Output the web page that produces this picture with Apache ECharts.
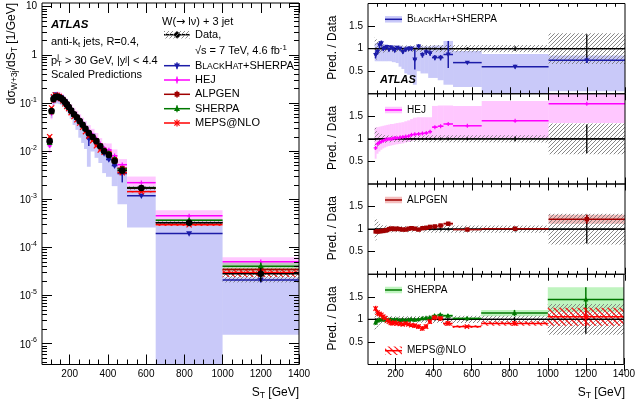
<!DOCTYPE html>
<html><head><meta charset="utf-8">
<script src="https://cdn.jsdelivr.net/npm/echarts@6/dist/echarts.min.js"></script>
<style>html,body{margin:0;padding:0;background:#fff}#c{width:638px;height:405px}</style>
</head><body><div id="c"></div>
<script>
// ---------------- data ----------------
const binLo = [90,100,110,120,130,140,150,160,170,180,190,200,215,230,245,260,275,290,310,330,350,370,390,420,450,500,650,1000];
const binHi = [100,110,120,130,140,150,160,170,180,190,200,215,230,245,260,275,290,310,330,350,370,390,420,450,500,650,1000,1400];
const dataVal = [0.016,0.068,0.12,0.133,0.135,0.131,0.125,0.116,0.104,0.093,0.082,0.069,0.058,0.05,0.042,0.035,0.029,0.0235,0.0195,0.016,0.0125,0.0099,0.0083,0.0062,0.0039,0.0017,0.00032,0.000028];
const dataSys = [0.25,0.17,0.12,0.1,0.09,0.085,0.08,0.075,0.075,0.07,0.07,0.07,0.07,0.07,0.07,0.07,0.07,0.07,0.075,0.075,0.075,0.08,0.08,0.08,0.08,0.08,0.08,0.34];
const dataStat = [0.02,0.01,0.01,0.01,0.01,0.01,0.01,0.01,0.01,0.01,0.01,0.01,0.01,0.01,0.015,0.015,0.015,0.02,0.02,0.02,0.025,0.025,0.025,0.03,0.03,0.03,0.05,0.32];

const bhRatio = [0.86,0.93,1.08,1.12,1.0,1.02,1.04,0.98,1.03,1.0,0.96,1.02,1.0,0.93,0.98,1.0,1.0,0.76,1.05,0.86,0.92,0.9,0.8,0.8,0.87,0.69,0.60,0.74];
const bhStat = [0.08,0.06,0.08,0.06,0.05,0.04,0.04,0.04,0.04,0.04,0.04,0.04,0.04,0.05,0.05,0.05,0.05,0.22,0.05,0.06,0.06,0.06,0.06,0.06,0.3,0.02,0.04,0.06];
const bhLo = [0.72,0.72,0.72,0.72,0.72,0.72,0.72,0.72,0.72,0.7,0.7,0.68,0.6,0.55,0.45,0.42,0.38,0.2,0.5,0.45,0.45,0.35,0.35,0.3,0.2,0.15,0.0005,0.054];
const bhHi = [1.12,1.1,1.12,1.15,1.1,1.1,1.1,1.08,1.08,1.08,1.07,1.07,1.07,1.05,1.05,1.05,1.05,1.05,1.05,1.05,1.05,1.05,1.07,1.07,1.17,0.95,0.88,0.85];

const hejRatio = [0.8,0.89,0.92,0.94,0.96,0.98,0.99,1.0,1.0,1.01,1.02,1.02,1.03,1.04,1.05,1.06,1.09,1.1,1.11,1.12,1.13,1.16,1.26,1.28,1.33,1.29,1.40,1.78];
const hejLo = [0.56,0.67,0.72,0.76,0.79,0.81,0.83,0.84,0.85,0.86,0.87,0.88,0.89,0.9,0.92,0.93,0.95,0.97,0.98,0.99,1.0,1.0,1.02,1.02,1.02,1.02,1.0,1.35];
const hejHi = [1.25,1.26,1.27,1.28,1.29,1.3,1.31,1.32,1.33,1.33,1.34,1.35,1.36,1.37,1.39,1.41,1.44,1.47,1.48,1.48,1.48,1.48,1.73,1.74,1.74,1.73,1.84,2.2];

const alpRatio = [0.95,0.95,0.95,0.96,0.96,0.97,0.98,1.0,1.01,1.01,1.0,1.01,1.0,0.99,0.99,1.01,1.02,1.01,0.99,1.02,1.03,1.05,1.06,1.08,1.12,0.99,1.01,1.22];
const alpErr = [0.04,0.03,0.025,0.02,0.02,0.02,0.02,0.02,0.02,0.02,0.02,0.02,0.02,0.02,0.02,0.02,0.025,0.025,0.025,0.03,0.03,0.03,0.03,0.035,0.04,0.015,0.015,0.1];

const sheRatio = [0.93,0.97,0.99,1.0,1.0,0.99,0.98,0.99,1.0,0.98,0.99,1.0,0.98,0.99,0.98,0.99,1.0,0.99,1.0,1.02,1.03,1.04,1.08,1.1,1.08,1.02,1.14,1.44];
const sheErr = [0.05,0.04,0.03,0.03,0.03,0.03,0.03,0.03,0.03,0.03,0.03,0.03,0.03,0.03,0.03,0.03,0.03,0.03,0.03,0.03,0.03,0.03,0.03,0.03,0.04,0.03,0.07,0.27];

const mepRatio = [1.24,1.15,1.12,1.1,1.06,1.03,0.98,0.95,0.92,0.91,0.93,0.91,0.9,0.89,0.91,0.89,0.87,0.86,0.84,0.8,0.84,0.95,1.04,1.02,0.91,0.84,0.91,1.06];
const mepErr = [0.06,0.06,0.05,0.05,0.05,0.04,0.04,0.04,0.04,0.04,0.04,0.04,0.04,0.04,0.04,0.04,0.04,0.05,0.05,0.05,0.05,0.05,0.05,0.05,0.05,0.03,0.05,0.2];

const xTickLabels = [200,400,600,800,1000,1200,1400];

// ---------------- styling ----------------
const FONT = "'Liberation Sans', Arial, Helvetica, sans-serif";
const C = {bh:'#1c1ca8', hej:'#ff00ff', alp:'#a00000', she:'#007800', mep:'#ff0000', data:'#000000'};
const BAND = {bh:'rgba(60,60,235,0.28)', hej:'rgba(255,0,255,0.22)', she:'rgba(0,210,0,0.25)', alp:'rgba(220,40,40,0.3)'};
const xMin = 55, xMax = 1400;
const yLogMin = 3.63e-7, yLogMax = 11.95;
const gridsDef = [
  {left:42, top:3, width:257, height:361.5},
  {left:368, top:3.5, width:257, height:90.25},
  {left:368, top:93.75, width:257, height:90.25},
  {left:368, top:184, width:257, height:90.25},
  {left:368, top:274.25, width:257, height:90.25}
];

function hatchPattern(color, size, lw, dir) {
  const cv = document.createElement('canvas');
  cv.width = size; cv.height = size;
  const g = cv.getContext('2d');
  g.strokeStyle = color; g.lineWidth = lw;
  g.beginPath();
  for (let k = -1; k <= 1; k++) {
    if (dir > 0) { g.moveTo(k*size, size); g.lineTo(k*size + size, 0); }
    else { g.moveTo(k*size, 0); g.lineTo(k*size + size, size); }
  }
  g.stroke();
  return {image: cv, repeat: 'repeat'};
}
const DATA_HATCH = hatchPattern('#7a7a7a', 4, 0.9, 1);
const MEP_HATCH = hatchPattern('#ff2020', 6, 1.3, -1);

function markerEl(type, cx, cy, s, color) {
  if (type === 'circle') return {type:'circle', shape:{cx:cx, cy:cy, r:s}, style:{fill:color}};
  if (type === 'square') return {type:'rect', shape:{x:cx-s, y:cy-s, width:2*s, height:2*s}, style:{fill:color}};
  if (type === 'tri') return {type:'polygon', shape:{points:[[cx,cy-1.25*s],[cx-1.15*s,cy+0.85*s],[cx+1.15*s,cy+0.85*s]]}, style:{fill:color}};
  if (type === 'tridown') return {type:'polygon', shape:{points:[[cx,cy+1.25*s],[cx-1.15*s,cy-0.85*s],[cx+1.15*s,cy-0.85*s]]}, style:{fill:color}};
  if (type === 'cross') return {type:'group', children:[
    {type:'line', shape:{x1:cx-s,y1:cy-s,x2:cx+s,y2:cy+s}, style:{stroke:color, lineWidth:1.2}},
    {type:'line', shape:{x1:cx-s,y1:cy+s,x2:cx+s,y2:cy-s}, style:{stroke:color, lineWidth:1.2}}]};
  return {type:'group', children:[
    {type:'line', shape:{x1:cx-s,y1:cy,x2:cx+s,y2:cy}, style:{stroke:color, lineWidth:1.2}},
    {type:'line', shape:{x1:cx,y1:cy-s,x2:cx,y2:cy+s}, style:{stroke:color, lineWidth:1.2}}]};
}

function clampRect(x0, y0, x1, y1, cs) {
  const L = Math.max(Math.min(x0,x1), cs.x), R = Math.min(Math.max(x0,x1), cs.x+cs.width);
  const T = Math.max(Math.min(y0,y1), cs.y), B = Math.min(Math.max(y0,y1), cs.y+cs.height);
  if (!(R > L) || !(B > T)) return null;
  return {x:L, y:T, width:R-L, height:B-T};
}

function bandSeries(name, gi, rows, fill, z) {
  return {
    type:'custom', name:name, xAxisIndex:gi*2, yAxisIndex:gi*2, z:z, silent:true, animation:false,
    encode:{x:[0,1], y:[2,3]}, data:rows,
    renderItem: function (params, api) {
      const cs = params.coordSys;
      const p0 = api.coord([api.value(0), api.value(3)]);
      const p1 = api.coord([api.value(1), api.value(2)]);
      const r = clampRect(p0[0], p0[1], p1[0], p1[1], cs);
      if (!r) return null;
      return {type:'rect', shape:r, style:{fill:fill}};
    }
  };
}

function predSeries(name, gi, rows, color, marker, ms, z, lw) {
  return {
    type:'custom', name:name, xAxisIndex:gi*2, yAxisIndex:gi*2, z:z, silent:true, animation:false,
    encode:{x:[0,1,2], y:[3,4,5]}, data:rows,
    renderItem: function (params, api) {
      const cs = params.coordSys;
      const top = cs.y, bot = cs.y + cs.height;
      const v = api.value(3);
      const a = api.coord([api.value(0), v]), b = api.coord([api.value(1), v]), c = api.coord([api.value(2), v]);
      if (!(c[1] >= top && c[1] <= bot)) return null;
      const el = api.coord([api.value(2), api.value(4)]), eh = api.coord([api.value(2), api.value(5)]);
      const ch = [
        {type:'line', shape:{x1:a[0], y1:a[1], x2:b[0], y2:b[1]}, style:{stroke:color, lineWidth:lw}},
        {type:'line', shape:{x1:c[0], y1:Math.max(eh[1], top), x2:c[0], y2:Math.min(el[1], bot)}, style:{stroke:color, lineWidth:lw}}
      ];
      if (marker) ch.push(markerEl(marker, c[0], c[1], ms, color));
      return {type:'group', children:ch};
    }
  };
}

function unitySeries(gi) {
  return {
    type:'custom', xAxisIndex:gi*2, yAxisIndex:gi*2, z:6, silent:true, animation:false,
    encode:{x:0, y:1}, data:[[500,1]],
    renderItem: function (params, api) {
      const cs = params.coordSys; const y = api.coord([500,1])[1];
      return {type:'line', shape:{x1:cs.x, y1:y, x2:cs.x+cs.width, y2:y}, style:{stroke:'#000', lineWidth:1.3}};
    }
  };
}

function minorTickSeries(gi, isLog, lx, ly) {
  return {
    type:'custom', xAxisIndex:gi*2, yAxisIndex:gi*2, z:60, silent:true, animation:false,
    encode:{x:0, y:1}, data:[[500,1]],
    renderItem: function (params, api) {
      const cs = params.coordSys; const ch = [];
      const st = {stroke:'#000', lineWidth:1};
      for (let v = 100; v < 1400; v += 50) {
        if (v % 200 === 0) continue;
        const x = Math.round(api.coord([v, 1])[0]) + 0.5;
        ch.push({type:'line', shape:{x1:x, y1:cs.y+cs.height, x2:x, y2:cs.y+cs.height-lx}, style:st});
        ch.push({type:'line', shape:{x1:x, y1:cs.y, x2:x, y2:cs.y+lx}, style:st});
      }
      if (isLog) {
        for (let e = -7; e <= 1; e++) {
          for (let k = 2; k <= 9; k++) {
            const val = k * Math.pow(10, e);
            if (val < yLogMin || val > yLogMax) continue;
            const y = Math.round(api.coord([500, val])[1]) + 0.5;
            ch.push({type:'line', shape:{x1:cs.x, y1:y, x2:cs.x+ly, y2:y}, style:st});
            ch.push({type:'line', shape:{x1:cs.x+cs.width, y1:y, x2:cs.x+cs.width-ly, y2:y}, style:st});
          }
        }
      }
      return {type:'group', children:ch};
    }
  };
}

// ---------- rows built from the arrays ----------
const mid = i => (binLo[i] + binHi[i]) / 2;
const bandMain = (lo, hi) => binLo.map((l, i) => [l, binHi[i], dataVal[i]*lo[i], dataVal[i]*hi[i]]);
const bandRatio = (lo, hi) => binLo.map((l, i) => [l, binHi[i], lo[i], hi[i]]);
const predMain = (r, e) => binLo.map((l, i) => [l, binHi[i], mid(i), dataVal[i]*r[i], dataVal[i]*(r[i]-e[i]), dataVal[i]*(r[i]+e[i])]);
const predRatio = (r, e) => binLo.map((l, i) => [l, binHi[i], mid(i), r[i], r[i]-e[i], r[i]+e[i]]);
const minus = (r, e) => r.map((v, i) => v - e[i]);
const plus = (r, e) => r.map((v, i) => v + e[i]);
const ones = binLo.map(() => 1);

const series = [];
// main panel
series.push(bandSeries('BH band', 0, bandMain(bhLo, bhHi), BAND.bh, 1));
series.push(bandSeries('HEJ band', 0, bandMain(hejLo, hejHi), BAND.hej, 2));
series.push(bandSeries('SHERPA band', 0, bandMain(minus(sheRatio, sheErr), plus(sheRatio, sheErr)), BAND.she, 3));
series.push(bandSeries('ALPGEN band', 0, bandMain(minus(alpRatio, alpErr), plus(alpRatio, alpErr)), BAND.alp, 3));
series.push(bandSeries('Data band', 0, bandMain(minus(ones, dataSys), plus(ones, dataSys)), DATA_HATCH, 4));
series.push(bandSeries('MEPS band', 0, bandMain(minus(mepRatio, mepErr), plus(mepRatio, mepErr)), MEP_HATCH, 5));
series.push(predSeries('BlackHat+Sherpa', 0, predMain(bhRatio, bhStat), C.bh, 'tridown', 2.6, 7, 1.5));
series.push(predSeries('HEJ', 0, predMain(hejRatio, hejRatio.map(() => 0.02)), C.hej, 'plus', 2.2, 7, 1.5));
series.push(predSeries('ALPGEN', 0, predMain(alpRatio, alpErr), C.alp, 'square', 2.4, 7, 1.5));
series.push(predSeries('SHERPA', 0, predMain(sheRatio, sheErr), C.she, 'tri', 2.6, 7, 1.5));
series.push(predSeries('MEPS@NLO', 0, predMain(mepRatio, mepErr), C.mep, 'cross', 2.6, 8, 1.5));
series.push(predSeries('Data', 0, predMain(ones, dataStat), C.data, 'circle', 3.3, 10, 1.5));
series.push(minorTickSeries(0, true, 5, 5));

// ratio panels
const ratioDef = [
  {gi:1, band:[bandRatio(bhLo, bhHi), BAND.bh], preds:[[predRatio(bhRatio, bhStat), C.bh, 'tridown', 2.2]]},
  {gi:2, band:[bandRatio(hejLo, hejHi), BAND.hej], preds:[[predRatio(hejRatio, hejRatio.map(() => 0.02)), C.hej, 'plus', 2]]},
  {gi:3, band:[bandRatio(minus(alpRatio, alpErr), plus(alpRatio, alpErr)), BAND.alp], preds:[[predRatio(alpRatio, alpErr), C.alp, 'square', 2.2]]},
  {gi:4, band:[bandRatio(minus(sheRatio, sheErr), plus(sheRatio, sheErr)), BAND.she],
   extraBand:[bandRatio(minus(mepRatio, mepErr), plus(mepRatio, mepErr)), MEP_HATCH],
   preds:[[predRatio(sheRatio, sheErr), C.she, 'tri', 2.2], [predRatio(mepRatio, mepErr), C.mep, 'cross', 2.2]]}
];
ratioDef.forEach(p => {
  series.push(bandSeries('band' + p.gi, p.gi, p.band[0], p.band[1], 1));
  series.push(bandSeries('data band' + p.gi, p.gi, bandRatio(minus(ones, dataSys), plus(ones, dataSys)), DATA_HATCH, 3));
  if (p.extraBand) series.push(bandSeries('meps band', p.gi, p.extraBand[0], p.extraBand[1], 4));
  series.push(unitySeries(p.gi));
  series.push(predSeries('data err' + p.gi, p.gi, predRatio(ones, dataStat), '#000', null, 0, 7, 1.3));
  p.preds.forEach(d => series.push(predSeries('pred' + p.gi, p.gi, d[0], d[1], d[2], d[3], 8, 1.5)));
  series.push(minorTickSeries(p.gi, false, 3.3, 0));
});

// ---------- axes ----------
const xAxes = [], yAxes = [];
const plain = v => String(v);
gridsDef.forEach((g, gi) => {
  const main = gi === 0;
  const majLen = main ? 10 : 6.5;
  const lab = {fontSize:10, color:'#000', fontFamily:FONT, formatter:plain};
  xAxes.push({gridIndex:gi, type:'value', min:xMin, max:xMax, position:'bottom', z:60,
    axisLine:{show:false}, splitLine:{show:false},
    axisTick:{show:true, inside:true, length:majLen, customValues:xTickLabels, lineStyle:{color:'#000', width:1}},
    axisLabel:Object.assign({show: gi === 0 || gi === 4, customValues:xTickLabels, margin:5}, lab)});
  xAxes.push({gridIndex:gi, type:'value', min:xMin, max:xMax, position:'top', z:60,
    axisLine:{show:false}, splitLine:{show:false},
    axisTick:{show:true, inside:true, length:majLen, customValues:xTickLabels, lineStyle:{color:'#000', width:1}},
    axisLabel:{show:false}});
  if (main) {
    const logLabel = {
      showMinLabel:false, showMaxLabel:false, margin:5,
      formatter: function (v) {
        const e = Math.round(Math.log10(v));
        if (e === 0) return '{b|1}';
        if (e === 1) return '{b|10}';
        return '{b|10}{sup|' + e + '}';
      },
      rich: {
        b:{fontSize:10, fontFamily:FONT, color:'#000', verticalAlign:'bottom'},
        sup:{fontSize:7, fontFamily:FONT, color:'#000', verticalAlign:'top', padding:[0,0,6,0]}
      }
    };
    yAxes.push({gridIndex:0, type:'log', logBase:10, min:yLogMin, max:yLogMax, position:'left', z:60,
      axisLine:{show:false}, splitLine:{show:false},
      axisTick:{inside:true, length:10, lineStyle:{color:'#000', width:1}}, axisLabel:logLabel});
    yAxes.push({gridIndex:0, type:'log', logBase:10, min:yLogMin, max:yLogMax, position:'right', z:60,
      axisLine:{show:false}, splitLine:{show:false},
      axisTick:{inside:true, length:10, lineStyle:{color:'#000', width:1}}, axisLabel:{show:false}});
  } else {
    yAxes.push({gridIndex:gi, type:'value', min:0, max:2, interval:0.5, position:'left', z:60,
      axisLine:{show:false}, splitLine:{show:false},
      axisTick:{inside:true, length:7, lineStyle:{color:'#000', width:1}},
      axisLabel:Object.assign({showMinLabel:false, showMaxLabel:false, margin:5}, lab)});
    yAxes.push({gridIndex:gi, type:'value', min:0, max:2, interval:0.5, position:'right',
      axisLine:{show:false}, splitLine:{show:false}, axisTick:{show:false}, axisLabel:{show:false}});
  }
});

// ---------- text & legend graphics ----------
function rich(size) {
  const sm = size * 0.72, pad = Math.round(size * 0.42);
  return {
    n:{fontSize:size, fontFamily:FONT, fill:'#000', verticalAlign:'middle'},
    ar:{fontSize:size, fontFamily:"'DejaVu Sans', sans-serif", fill:'#000', verticalAlign:'middle'},
    sub:{fontSize:sm, fontFamily:FONT, fill:'#000', verticalAlign:'bottom', padding:[pad,0,0,0]},
    sup:{fontSize:sm, fontFamily:FONT, fill:'#000', verticalAlign:'top', padding:[0,0,pad,0]},
    c:{fontSize:size, fontFamily:FONT, fill:'#000', verticalAlign:'bottom'},
    s:{fontSize:size*0.78, fontFamily:FONT, fill:'#000', verticalAlign:'bottom'},
    bi:{fontSize:size, fontFamily:FONT, fill:'#000', fontWeight:'bold', fontStyle:'italic', verticalAlign:'middle'}
  };
}
function txt(x, y, text, size, align, rotation) {
  return {type:'text', x:x, y:y, rotation:rotation || 0, z:100, silent:true,
    style:{text:text, rich:rich(size), fontSize:size, fontFamily:FONT, fill:'#000',
      align:align || 'left', textAlign:align || 'left', verticalAlign:'middle', textVerticalAlign:'middle'}};
}
const smallCapsBH = '{c|B}{s|LACK}{c|H}{s|AT}{c|+SHERPA}';
function legLine(x1, x2, y, color, marker, s) {
  const cx = (x1 + x2) / 2;
  const ch = [
    {type:'line', shape:{x1:x1, y1:y, x2:x2, y2:y}, style:{stroke:color, lineWidth:1.5}},
    {type:'line', shape:{x1:cx, y1:y-3.5, x2:cx, y2:y+3.5}, style:{stroke:color, lineWidth:1.2}}
  ];
  if (marker) ch.push(markerEl(marker, cx, y, s, color));
  return {type:'group', z:100, silent:true, children:ch};
}
function legBox(x1, x2, y, h, fill, color) {
  return {type:'group', z:100, silent:true, children:[
    {type:'rect', shape:{x:x1, y:y-h/2, width:x2-x1, height:h}, style:{fill:fill}},
    {type:'line', shape:{x1:x1, y1:y, x2:x2, y2:y}, style:{stroke:color, lineWidth:1.5}}
  ]};
}

const graphics = [
  txt(51, 24.7, '{bi|ATLAS}', 11.5),
  txt(51, 42, '{n|anti-k}{sub|t}{n| jets, R=0.4,}', 11),
  txt(51, 61, '{n|p}{sub|T}{n| > 30 GeV, |y}{sup|j}{n|| < 4.4}', 11),
  txt(57.2, 57.2, '{n|j}', 8),
  txt(51, 75, '{n|Scaled Predictions}', 11),
  txt(162, 22.3, '{n|W(}{ar|→}{n| lν) + 3 jet}', 11),
  {type:'rect', z:100, silent:true, shape:{x:164, y:31, width:26, height:7.5}, style:{fill:DATA_HATCH}},
  legLine(164, 190, 34.7, '#000', 'circle', 2.8),
  txt(195, 34.7, '{n|Data,}', 11),
  txt(195, 50.5, '{n|√s = 7 TeV, 4.6 fb}{sup|-1}', 11),
  legLine(164, 190, 65.7, C.bh, 'tridown', 2.6),
  txt(195, 65.7, smallCapsBH, 11),
  legLine(164, 190, 80, C.hej, 'plus', 2.2),
  txt(195, 80, '{n|HEJ}', 11),
  legLine(164, 190, 94.3, C.alp, 'square', 2.4),
  txt(195, 94.3, '{n|ALPGEN}', 11),
  legLine(164, 190, 108.7, C.she, 'tri', 2.6),
  txt(195, 108.7, '{n|SHERPA}', 11),
  legLine(164, 190, 123, C.mep, 'cross', 2.6),
  txt(195, 123, '{n|MEPS@NLO}', 11),
  txt(12, 3, '{n|dσ}{sub|W+3j}{n|/dS}{sub|T}{n| [1/GeV]}', 12, 'right', Math.PI / 2),
  txt(299, 393, '{n|S}{sub|T}{n| [GeV]}', 12, 'right'),
  txt(625, 393, '{n|S}{sub|T}{n| [GeV]}', 12, 'right'),
  // ratio legends
  legBox(385, 402, 19.3, 6.5, BAND.bh, C.bh),
  txt(407, 19.3, smallCapsBH, 10),
  txt(380, 79.5, '{bi|ATLAS}', 11),
  legBox(385, 402, 110, 6.5, BAND.hej, C.hej),
  txt(407, 110, '{n|HEJ}', 10),
  legBox(385, 402, 200, 6.5, BAND.alp, C.alp),
  txt(407, 200, '{n|ALPGEN}', 10),
  legBox(385, 402, 290, 6.5, BAND.she, C.she),
  txt(407, 290, '{n|SHERPA}', 10),
  {type:'rect', z:100, silent:true, shape:{x:385, y:346.5, width:17, height:8.5}, style:{fill:MEP_HATCH}},
  {type:'line', z:100, silent:true, shape:{x1:385, y1:350.7, x2:402, y2:350.7}, style:{stroke:C.mep, lineWidth:1.5}},
  txt(407, 350.7, '{n|MEPS@NLO}', 10)
];
gridsDef.slice(1).forEach(g => graphics.push(txt(333, g.top + g.height / 2 - 1, '{n|Pred. / Data}', 12, 'center', Math.PI / 2)));

const chart = echarts.init(document.getElementById('c'), null, {renderer:'canvas'});
chart.setOption({
  animation:false,
  backgroundColor:'#ffffff',
  grid: gridsDef.map(g => Object.assign({show:true, z:50, backgroundColor:'transparent', borderColor:'#000', borderWidth:1}, g)),
  xAxis: xAxes,
  yAxis: yAxes,
  series: series,
  graphic: graphics
});
</script>
</body></html>
